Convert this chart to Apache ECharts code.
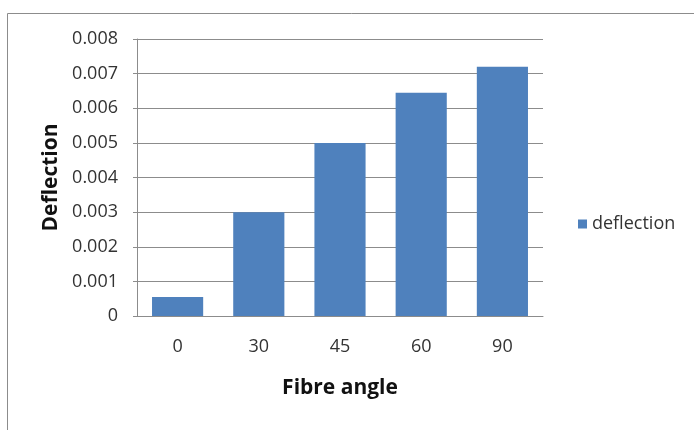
<!DOCTYPE html>
<html>
<head>
<meta charset="utf-8">
<script src="https://cdn.jsdelivr.net/npm/echarts@6/dist/echarts.min.js"></script>
<style>html,body{margin:0;padding:0;background:#fff}#c{width:694px;height:430px}</style>
</head>
<body>
<div id="c"></div>
<script>
const categories = ['0', '30', '45', '60', '90'];
const deflection = [0.00055, 0.003, 0.005, 0.00645, 0.0072];
const seriesName = 'deflection';
const xTitle = 'Fibre angle';
const yTitle = 'Deflection';

const chart = echarts.init(document.getElementById('c'));
const font = '"Open Sans", Lato, sans-serif';
chart.setOption({
  animation: false,
  textStyle: { fontFamily: font },
  graphic: [{
    type: 'rect', shape: { x: 7.5, y: 13.5, width: 900, height: 900 },
    style: { fill: 'none', stroke: '#8c8c8c', lineWidth: 1 }, silent: true
  }],
  grid: { left: 137, right: 151, top: 39, bottom: 114 },
  legend: {
    data: [seriesName], left: 573, top: 210, orient: 'vertical',
    itemWidth: 9, itemHeight: 9, itemGap: 4,
    icon: 'rect',
    textStyle: { fontSize: 18, color: '#333', fontFamily: font, padding: [0, 0, 0, 0] }
  },
  xAxis: {
    type: 'category', data: categories,
    name: xTitle, nameLocation: 'middle', nameGap: 62,
    nameTextStyle: { fontSize: 21, fontWeight: 'bold', color: '#111', fontFamily: font },
    axisLine: { lineStyle: { color: '#8c8c8c', width: 1 } },
    axisTick: { show: false },
    axisLabel: { fontSize: 18, color: '#333', margin: 22, fontFamily: font }
  },
  yAxis: {
    type: 'value', min: 0, max: 0.008, interval: 0.001,
    name: yTitle, nameLocation: 'middle', nameGap: 75, nameRotate: 90,
    nameTextStyle: { fontSize: 21, fontWeight: 'bold', color: '#111', fontFamily: font },
    axisLine: { show: true, lineStyle: { color: '#8c8c8c', width: 1 } },
    axisTick: { show: true, length: 4, lineStyle: { color: '#8c8c8c' } },
    splitLine: { lineStyle: { color: '#8c8c8c', width: 1 } },
    axisLabel: {
      fontSize: 18, color: '#333', margin: 19, fontFamily: font,
      formatter: v => v === 0 ? '0' : v.toFixed(3)
    }
  },
  series: [{
    name: seriesName, type: 'bar', data: deflection,
    barCategoryGap: '37%',
    itemStyle: { color: '#4F81BD' }
  }]
});
</script>
</body>
</html>
